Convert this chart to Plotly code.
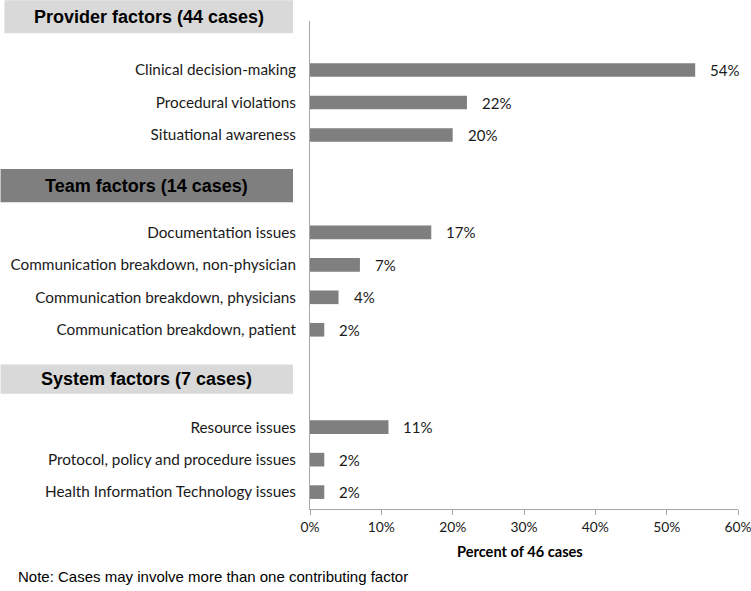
import plotly.graph_objects as go

# ---- data ----
groups = ["Provider factors (44 cases)", "Team factors (14 cases)", "System factors (7 cases)"]
provider_cats = ["Clinical decision-making", "Procedural violations", "Situational awareness"]
provider_vals = [54, 22, 20]
team_cats = ["Documentation issues", "Communication breakdown, non-physician",
             "Communication breakdown, physicians", "Communication breakdown, patient"]
team_vals = [17, 7, 4, 2]
system_cats = ["Resource issues", "Protocol, policy and procedure issues",
               "Health Information Technology issues"]
system_vals = [11, 2, 2]
x_ticks = [0, 10, 20, 30, 40, 50, 60]
x_tick_labels = ["0%", "10%", "20%", "30%", "40%", "50%", "60%"]
x_title = "Percent of 46 cases"
note = "Note: Cases may involve more than one contributing factor"

# ---- layout of rows ----
group_cats = [provider_cats, team_cats, system_cats]
group_vals = [provider_vals, team_vals, system_vals]
header_styles = [("#d9d9d9", -0.714, 0.51), ("#7f7f7f", -0.723, 0.51), ("#d9d9d9", -0.723, 0.45)]
header_offsets = [1.64, 1.44, 1.48]

cats, vals, ypos, header_pos = [], [], [], []
pos = 0
for gi, (c, v) in enumerate(zip(group_cats, group_vals)):
    header_pos.append(pos - header_offsets[gi])
    for ci, vi in zip(c, v):
        cats.append(ci)
        vals.append(vi)
        ypos.append(pos)
        pos += 1
    pos += 2

y_bottom, y_top = 13.52, -1.51


def to_paper(yv):
    return (y_bottom - yv) / (y_bottom - y_top)


fig = go.Figure()
fig.add_trace(go.Bar(
    x=vals, y=ypos, orientation="h", width=0.42,
    marker=dict(color="#7f7f7f", line=dict(width=0)),
    hoverinfo="skip",
))

annotations = []
for v, y in zip(vals, ypos):
    annotations.append(dict(x=v, y=y, xref="x", yref="y", text=f"{v}%", showarrow=False,
                            xanchor="left", yanchor="middle", xshift=13,
                            font=dict(family="Lato, sans-serif", size=15, color="#1a1a1a")))

shapes = []
for g, hp, (col, x0, hh) in zip(groups, header_pos, header_styles):
    shapes.append(dict(type="rect", xref="paper", yref="paper",
                       x0=x0, x1=-0.0397, y0=to_paper(hp + hh), y1=to_paper(hp - hh),
                       fillcolor=col, line=dict(width=0), layer="below"))
    annotations.append(dict(x=(x0 - 0.0397) / 2, y=to_paper(hp), xref="paper", yref="paper",
                            text=f"<b>{g}</b>", showarrow=False, xanchor="center", yanchor="middle",
                            font=dict(family="Liberation Sans, Arial, sans-serif", size=18, color="#000")))

annotations.append(dict(x=0.49, y=-0.066, xref="paper", yref="paper", text=f"<b>{x_title}</b>",
                        showarrow=False, xanchor="center", yanchor="top",
                        font=dict(family="Lato, sans-serif", size=14.6, color="#000")))
annotations.append(dict(x=(18 - 310) / 428.7, y=-0.139, xref="paper", yref="paper", text=note,
                        showarrow=False, xanchor="left", yanchor="middle", xshift=-2,
                        font=dict(family="Liberation Sans, Arial, sans-serif", size=15, color="#000")))

fig.update_layout(
    width=751, height=591,
    margin=dict(l=310, r=13, t=21, b=82),
    plot_bgcolor="white", paper_bgcolor="white",
    showlegend=False,
    shapes=shapes,
    annotations=annotations,
    xaxis=dict(range=[0, 60], tickvals=x_ticks, ticktext=x_tick_labels, showgrid=False,
               zeroline=False, showline=True, linecolor="#a6a6a6", linewidth=1,
               ticks="outside", ticklen=5, tickcolor="#a6a6a6", ticklabeloverflow="allow",
               automargin=False,
               tickfont=dict(family="Lato, sans-serif", size=13.8, color="#1a1a1a")),
    yaxis=dict(range=[y_bottom, y_top], tickvals=ypos, ticktext=cats, showgrid=False,
               zeroline=False, showline=True, linecolor="#a6a6a6", linewidth=1, ticks="",
               ticklabelstandoff=10, automargin=False,
               tickfont=dict(family="Lato, sans-serif", size=15.3, color="#1a1a1a")),
    font=dict(family="Liberation Sans, Arial, sans-serif", size=14, color="#1a1a1a"),
)

fig.write_html("out.html", config={"displayModeBar": False},
               post_script="document.body.style.margin='0';document.body.style.padding='0';")
